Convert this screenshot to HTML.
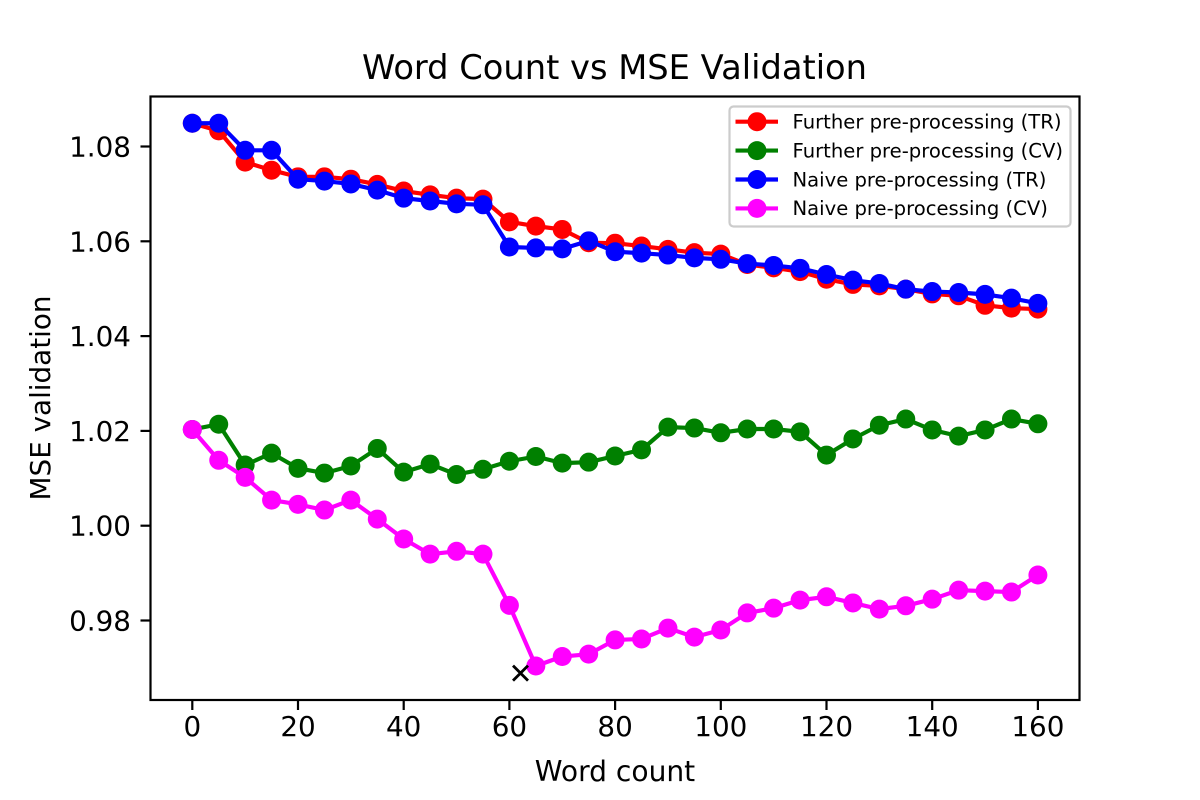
<!DOCTYPE html>
<html>
<head>
<meta charset="utf-8">
<title>Word Count vs MSE Validation</title>
<style>
html,body{margin:0;padding:0;background:#fff;width:1200px;height:800px;overflow:hidden}
svg{display:block}
text{font-family:"DejaVu Sans","Liberation Sans",sans-serif;fill:#000}
</style>
</head>
<body>
<svg id="chart" width="1200" height="800" viewBox="0 0 1200 800" xmlns="http://www.w3.org/2000/svg">
  <rect x="0" y="0" width="1200" height="800" fill="#fff"/>
  <rect x="150.5" y="96.5" width="929" height="603.5" fill="#fff"/>
  <g id="ticks"></g>
  <g id="series"></g>
  <rect x="150.5" y="96.5" width="929" height="603.5" fill="none" stroke="#000" stroke-width="2.2"/>
  <text x="614.5" y="79" font-size="33.7" text-anchor="middle">Word Count vs MSE Validation</text>
  <text x="615" y="781" font-size="28.1" text-anchor="middle">Word count</text>
  <text x="50" y="398" font-size="27.8" text-anchor="middle" transform="rotate(-90 50 398)">MSE validation</text>
  <g id="legend">
    <rect x="729.5" y="106.5" width="341" height="120" rx="4" ry="4" fill="#fff" fill-opacity="0.8" stroke="#ccc" stroke-width="2.2"/>
  </g>
</svg>
<script>
const wordCounts = [0,5,10,15,20,25,30,35,40,45,50,55,60,65,70,75,80,85,90,95,100,105,110,115,120,125,130,135,140,145,150,155,160];
const furtherTrain = [1.0849,1.0833,1.0767,1.0750,1.0736,1.0736,1.0731,1.0720,1.0706,1.0698,1.0691,1.0689,1.0641,1.0632,1.0625,1.0597,1.0596,1.0590,1.0583,1.0576,1.0573,1.0551,1.0544,1.0536,1.0520,1.0509,1.0506,1.0499,1.0489,1.0485,1.0465,1.0459,1.0457];
const furtherCv = [1.0203,1.0214,1.0128,1.0153,1.0121,1.0111,1.0126,1.0163,1.0113,1.0130,1.0108,1.0119,1.0136,1.0146,1.0132,1.0134,1.0147,1.0160,1.0208,1.0206,1.0196,1.0204,1.0204,1.0198,1.0149,1.0183,1.0212,1.0225,1.0202,1.0189,1.0202,1.0225,1.0215];
const naiveTrain = [1.0849,1.0849,1.0792,1.0792,1.0731,1.0727,1.0721,1.0708,1.0691,1.0685,1.0679,1.0677,1.0588,1.0586,1.0584,1.0601,1.0578,1.0575,1.0571,1.0565,1.0562,1.0553,1.0549,1.0543,1.0530,1.0518,1.0511,1.0499,1.0494,1.0492,1.0488,1.0480,1.0469];
const naiveCv = [1.0203,1.0138,1.0102,1.0054,1.0045,1.0033,1.0054,1.0014,0.9972,0.9940,0.9946,0.9940,0.9832,0.9704,0.9724,0.9729,0.9759,0.9761,0.9784,0.9765,0.9780,0.9816,0.9826,0.9843,0.9850,0.9837,0.9824,0.9831,0.9845,0.9864,0.9862,0.9860,0.9896];
const minimumPoint = [62.1, 0.9689];
const xTickValues = [0,20,40,60,80,100,120,140,160];
const yTickValues = [0.98,1.00,1.02,1.04,1.06,1.08];
const yTickLabels = ["0.98","1.00","1.02","1.04","1.06","1.08"];
const seriesNames = ["Further pre-processing (TR)","Further pre-processing (CV)","Naive pre-processing (TR)","Naive pre-processing (CV)"];
const seriesColors = ["#ff0000","#008000","#0000ff","#ff00ff"];
const seriesKeys = ["further-tr","further-cv","naive-tr","naive-cv"];
const seriesValues = [furtherTrain, furtherCv, naiveTrain, naiveCv];

const NS = "http://www.w3.org/2000/svg";
function xScale(v){ return 192.3 + v * 5.285; }
function yScale(v){ return 146.5 + (1.08 - v) * 4740; }
function make(tag, attrs, parent){
  const el = document.createElementNS(NS, tag);
  for (const k in attrs) el.setAttribute(k, attrs[k]);
  parent.appendChild(el);
  return el;
}

const tickGroup = document.getElementById("ticks");
xTickValues.forEach(function(v){
  const x = xScale(v);
  const t = make("line", {x1:x, x2:x, y1:700, y2:710, stroke:"#000", "stroke-width":2.2}, tickGroup);
  
  
  const l = make("text", {x:x, y:736, "font-size":27.8, "text-anchor":"middle"}, tickGroup);
  l.textContent = String(v);
  
  
});
yTickValues.forEach(function(v, i){
  const y = yScale(v);
  const t = make("line", {x1:140.5, x2:150.5, y1:y, y2:y, stroke:"#000", "stroke-width":2.2}, tickGroup);
  
  
  const l = make("text", {x:131, y:y + 10, "font-size":27.8, "text-anchor":"end"}, tickGroup);
  l.textContent = yTickLabels[i];
  
  
});

const seriesGroup = document.getElementById("series");
seriesValues.forEach(function(vals, s){
  const g = make("g", {}, seriesGroup);
  
  
  const pts = vals.map(function(v, i){ return xScale(wordCounts[i]).toFixed(2) + "," + yScale(v).toFixed(2); }).join(" ");
  const line = make("polyline", {points:pts, fill:"none", stroke:seriesColors[s], "stroke-width":4.17, "stroke-linejoin":"round"}, g);
  
  
  vals.forEach(function(v, i){
    const c = make("circle", {cx:xScale(wordCounts[i]), cy:yScale(v), r:9.5, fill:seriesColors[s]}, g);
    
    
  });
});

const mx = xScale(minimumPoint[0]);
const my = yScale(minimumPoint[1]);
const marker = make("path", {d:"M" + (mx-7.5) + " " + (my-7.5) + "L" + (mx+7.5) + " " + (my+7.5) + "M" + (mx-7.5) + " " + (my+7.5) + "L" + (mx+7.5) + " " + (my-7.5), stroke:"#000", "stroke-width":2.8, fill:"none"}, seriesGroup);



const legendGroup = document.getElementById("legend");
seriesNames.forEach(function(name, s){
  const y = 121.7 + s * 28.9;
  const g = make("g", {}, legendGroup);
  
  
  const ln = make("line", {x1:735.5, x2:778, y1:y, y2:y, stroke:seriesColors[s], "stroke-width":4.17}, g);
  
  
  const c = make("circle", {cx:757, cy:y, r:9.5, fill:seriesColors[s]}, g);
  
  
  const t = make("text", {x:792.5, y:y + 6.8, "font-size":19.6}, g);
  t.textContent = name;
  
  
});
</script>
</body>
</html>
